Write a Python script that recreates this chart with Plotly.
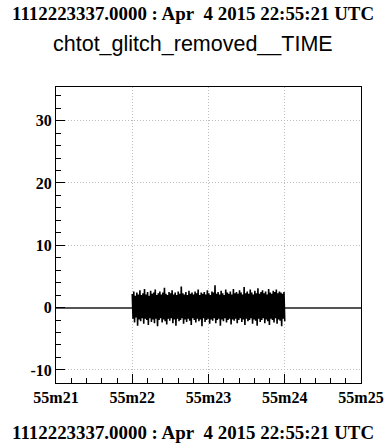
import plotly.graph_objects as go
from datetime import datetime, timedelta

# ---- data ----
start_time = "2015-04-04 22:55:22"
sample_step_ms = 20.1  # spacing between successive peak/trough pairs
upper = [2.2, 2.6, 1.9, 2.4, 2.1, 2.8, 2.0, 2.3, 3.0, 2.1, 2.5, 1.9, 2.7, 2.2, 2.4, 2.9, 2.0, 2.3, 2.6, 2.1,
         2.4, 3.2, 2.2, 2.0, 2.5, 2.3, 2.8, 2.1, 2.4, 2.0, 2.6, 2.2, 3.4, 2.3, 2.1, 2.5, 2.0, 2.7, 2.2, 2.4,
         2.1, 2.6, 2.3, 2.9, 2.0, 2.4, 2.2, 2.5, 2.1, 2.8, 2.3, 2.0, 2.6, 2.4, 3.6, 2.2, 2.5, 2.1, 2.7, 2.3,
         2.0, 2.9, 2.4, 2.2, 2.6, 2.1, 3.0, 2.3, 2.5, 2.2, 2.8, 2.4, 2.1, 3.3, 2.3, 2.6, 2.2, 2.9, 2.4, 2.1,
         2.7, 2.3, 3.1, 2.2, 2.5, 2.8, 2.3, 2.6, 2.1, 3.0, 2.4, 2.2, 2.7, 2.5, 2.9, 2.3, 2.6, 2.4, 2.2, 2.5]
lower = [-1.8, -2.4, -1.6, -2.9, -1.9, -2.2, -1.7, -2.6, -1.8, -2.0, -2.8, -1.7, -2.3, -1.9, -2.5, -1.8, -3.0, -2.0, -1.7, -2.4,
         -1.9, -2.2, -2.7, -1.8, -2.1, -1.7, -2.5, -1.9, -2.9, -1.8, -2.2, -2.0, -1.7, -2.6, -1.9, -2.3, -1.8, -2.1, -2.8, -1.7,
         -2.0, -2.4, -1.8, -2.2, -1.9, -3.0, -1.7, -2.3, -2.0, -1.8, -2.6, -1.9, -2.1, -1.7, -2.5, -2.0, -1.8, -2.9, -1.9, -2.2,
         -1.7, -2.4, -2.0, -1.8, -2.7, -1.9, -2.1, -1.8, -2.5, -2.0, -1.7, -2.3, -1.9, -2.8, -1.8, -2.2, -2.0, -1.7, -2.6, -1.9,
         -2.1, -2.9, -1.8, -2.3, -2.0, -1.7, -2.5, -1.9, -2.2, -2.8, -1.8, -2.0, -2.4, -1.7, -2.6, -1.9, -2.1, -3.0, -1.8, -2.2]
x_range = ["2015-04-04 22:55:21", "2015-04-04 22:55:25"]
y_range = [-12.1, 35.4]
y_tickvals = [-10, 0, 10, 20, 30]
y_ticktext = ["-10", "0", "10", "20", "30"]
header_text = "1112223337.0000 : Apr\u00a0 4 2015 22:55:21 UTC"
title_text = "chtot_glitch_removed__TIME"

# ---- build the zig-zag trace ----
t0 = datetime.strptime(start_time, "%Y-%m-%d %H:%M:%S")
xs, ys = [], []
for i, (u, l) in enumerate(zip(upper, lower)):
    t = t0 + timedelta(milliseconds=i * sample_step_ms)
    xs.append(t)
    ys.append(u)
    xs.append(t + timedelta(milliseconds=sample_step_ms / 2))
    ys.append(l)

fig = go.Figure()
fig.add_trace(go.Scatter(x=xs, y=ys, mode="lines",
                         line=dict(color="black", width=1.6), showlegend=False,
                         hoverinfo="skip"))

tickfont = dict(family="Liberation Serif", size=16, color="black", weight="bold")
GRID = "#bdbdbd"

W, H = 385, 448
ML, MR, MT, MB = 56, 24, 87, 65

fig.update_layout(
    width=W, height=H,
    margin=dict(l=ML, r=MR, t=MT, b=MB),
    paper_bgcolor="white", plot_bgcolor="white",
    showlegend=False,
    xaxis=dict(
        type="date", range=x_range, tickformat="%Mm%S", dtick=1000,
        tick0="2015-04-04 22:55:21", automargin=False,
        showgrid=True, gridcolor=GRID, griddash="1px,2px", gridwidth=1,
        ticks="inside", ticklen=9, tickcolor="black", tickwidth=1,
        minor=dict(dtick=200, ticks="inside", ticklen=5, tickcolor="black", showgrid=False),
        showline=True, linecolor="black", linewidth=1, mirror=True,
        zeroline=False, tickfont=tickfont,
    ),
    yaxis=dict(
        range=y_range, tickmode="array", tickvals=y_tickvals, ticktext=y_ticktext,
        automargin=False,
        showgrid=True, gridcolor=GRID, griddash="1px,2px", gridwidth=1,
        ticks="inside", ticklen=9, tickcolor="black", tickwidth=1,
        minor=dict(dtick=2, tick0=0, ticks="inside", ticklen=5, tickcolor="black", showgrid=False),
        showline=True, linecolor="black", linewidth=1, mirror=True,
        zeroline=True, zerolinecolor="#555555", zerolinewidth=1.5,
        tickfont=tickfont,
    ),
)

plot_h = H - MT - MB
plot_w = W - ML - MR


def add_text(text, py, font):
    fig.add_annotation(text=text, x=(W / 2 - ML) / plot_w, y=(H - MB - py) / plot_h,
                       xref="paper", yref="paper", xanchor="center", yanchor="middle",
                       showarrow=False, font=font)


header_font = dict(family="Liberation Serif", size=18.9, color="black", weight="bold")
add_text(header_text, 13, header_font)
add_text(title_text, 44, dict(family="Liberation Sans", size=21.5, color="black"))
add_text(header_text, 432, header_font)

fig.write_html("out.html", config={"displayModeBar": False},
               post_script="document.body.style.margin='0';document.body.style.padding='0';document.body.style.overflow='hidden';")
